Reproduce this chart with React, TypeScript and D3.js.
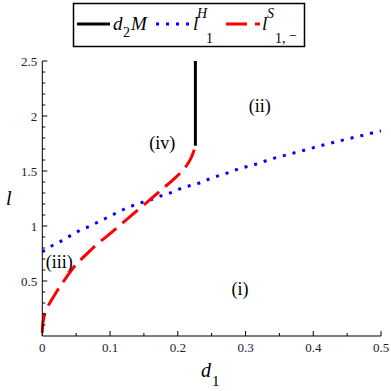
import React from 'react';
import * as d3 from 'd3';

// values
const d2M = { d: 0.226, lFrom: 1.73, lTo: 2.5 };

const hopfD = [0, 0.0144, 0.0277, 0.041, 0.054, 0.067, 0.082, 0.1, 0.12, 0.14, 0.163, 0.178, 0.193, 0.206, 0.22, 0.236, 0.249, 0.262, 0.277, 0.29, 0.305, 0.32, 0.333, 0.36, 0.39, 0.42, 0.45, 0.48, 0.5];
const hopfL = [0.765, 0.82, 0.863, 0.91, 0.955, 0.99, 1.035, 1.09, 1.15, 1.2, 1.245, 1.28, 1.31, 1.345, 1.37, 1.4, 1.435, 1.46, 1.49, 1.52, 1.545, 1.57, 1.6, 1.645, 1.695, 1.745, 1.79, 1.835, 1.865];

const saddleD = [0, 0.001, 0.004, 0.01, 0.018, 0.026, 0.034, 0.051, 0.063, 0.082, 0.1, 0.117, 0.14, 0.162, 0.178, 0.193, 0.205, 0.213, 0.219, 0.223, 0.226];
const saddleL = [0.03, 0.12, 0.21, 0.29, 0.37, 0.45, 0.52, 0.66, 0.73, 0.84, 0.93, 1.02, 1.14, 1.255, 1.34, 1.42, 1.49, 1.55, 1.61, 1.67, 1.74];

const xTicks = [0, 0.1, 0.2, 0.3, 0.4, 0.5];
const yTicks = [0.5, 1, 1.5, 2, 2.5];

const regions = [
  { label: '(i)', d: 0.292, l: 0.37 },
  { label: '(ii)', d: 0.321, l: 2.04 },
  { label: '(iii)', d: 0.025, l: 0.62 },
  { label: '(iv)', d: 0.177, l: 1.7 },
];

const serif = '"Liberation Serif", "DejaVu Serif", serif';

export default function App() {
  const width = 391;
  const height = 391;
  const x = d3.scaleLinear().domain([0, 0.5]).range([42.3, 381]);
  const y = d3.scaleLinear().domain([0, 2.5]).range([336, 61]);

  const line = d3.line<[number, number]>()
    .x(p => x(p[0]))
    .y(p => y(p[1]))
    .curve(d3.curveMonotoneX);

  const hopf = hopfD.map((d, i) => [d, hopfL[i]] as [number, number]);
  const saddle = saddleD.map((d, i) => [d, saddleL[i]] as [number, number]);
  const saddleLine = d3.line<[number, number]>()
    .x(p => x(p[0]))
    .y(p => y(p[1]))
    .curve(d3.curveCatmullRom.alpha(0.5));

  const xMinor = d3.range(0, 0.5001, 0.05);
  const yMinor = d3.range(0.1, 2.5001, 0.1);

  return (
    <div style={{ position: 'absolute', left: 0, top: 0 }}>
      <svg width={width} height={height} style={{ display: 'block', background: '#fff' }}>
        {/* curves */}
        <path d={line(hopf) ?? ''} fill="none" stroke="#0000ff" strokeWidth={3} strokeDasharray="3,7" />
        <path d={saddleLine(saddle) ?? ''} fill="none" stroke="#ff0000" strokeWidth={3} strokeDasharray="20,8" />
        <line x1={x(d2M.d)} x2={x(d2M.d)} y1={y(d2M.lFrom)} y2={y(d2M.lTo)} stroke="#000" strokeWidth={3} />

        {/* axes */}
        <g stroke="#000" strokeWidth={1}>
          <line x1={x(0)} x2={x(0.5)} y1={y(0)} y2={y(0)} />
          <line x1={x(0)} x2={x(0)} y1={y(0)} y2={y(2.5)} />
          {xMinor.map((t, i) => (
            <line key={'xm' + i} x1={x(t)} x2={x(t)} y1={y(0)} y2={y(0) - (i % 2 === 0 ? 5 : 3)} />
          ))}
          {yMinor.map((t, i) => (
            <line key={'ym' + i} x1={x(0)} x2={x(0) + ((i + 1) % 5 === 0 ? 5 : 3)} y1={y(t)} y2={y(t)} />
          ))}
        </g>
        <g fontFamily={serif} fontSize={13} fill="#1a1a3a">
          {xTicks.map(t => (
            <text key={'xt' + t} x={x(t)} y={y(0) + 16} textAnchor="middle">{String(t)}</text>
          ))}
          {yTicks.map(t => (
            <text key={'yt' + t} x={x(0) - 5} y={y(t) + 4.5} textAnchor="end">{String(t)}</text>
          ))}
        </g>

        {/* axis titles */}
        <text x={201} y={377} fontFamily={serif} fontSize={20} fontStyle="italic">d</text>
        <text x={212} y={386} fontFamily={serif} fontSize={15}>1</text>
        <text x={6} y={205} fontFamily={serif} fontSize={20} fontStyle="italic">l</text>

        {/* region labels */}
        <g fontFamily={serif} fontSize={18} textAnchor="middle">
          {regions.map(r => (
            <text key={r.label} x={x(r.d)} y={y(r.l)}>{r.label}</text>
          ))}
        </g>

        {/* legend */}
        <rect x={73.5} y={3.5} width={231} height={43} fill="#fff" stroke="#000" strokeWidth={1.5} />
        <line x1={77} x2={110} y1={24} y2={24} stroke="#000" strokeWidth={3} />
        <g fontFamily={serif}>
          <text x={113} y={30} fontSize={19} fontStyle="italic">d</text>
          <text x={123} y={37} fontSize={14}>2</text>
          <text x={131} y={30} fontSize={19} fontStyle="italic">M</text>
        </g>
        <line x1={156} x2={190} y1={24} y2={24} stroke="#0000ff" strokeWidth={3} strokeDasharray="3,7" />
        <g fontFamily={serif}>
          <text x={193} y={30} fontSize={19} fontStyle="italic">l</text>
          <text x={197} y={18} fontSize={14} fontStyle="italic">H</text>
          <text x={206} y={43} fontSize={14}>1</text>
        </g>
        <line x1={226} x2={260} y1={24} y2={24} stroke="#ff0000" strokeWidth={3} strokeDasharray="21,8" />
        <g fontFamily={serif}>
          <text x={262} y={30} fontSize={19} fontStyle="italic">l</text>
          <text x={267} y={18} fontSize={14} fontStyle="italic">S</text>
          <text x={275} y={43} fontSize={14}>1,</text>
          <text x={289} y={40} fontSize={14}>−</text>
        </g>
      </svg>
    </div>
  );
}
